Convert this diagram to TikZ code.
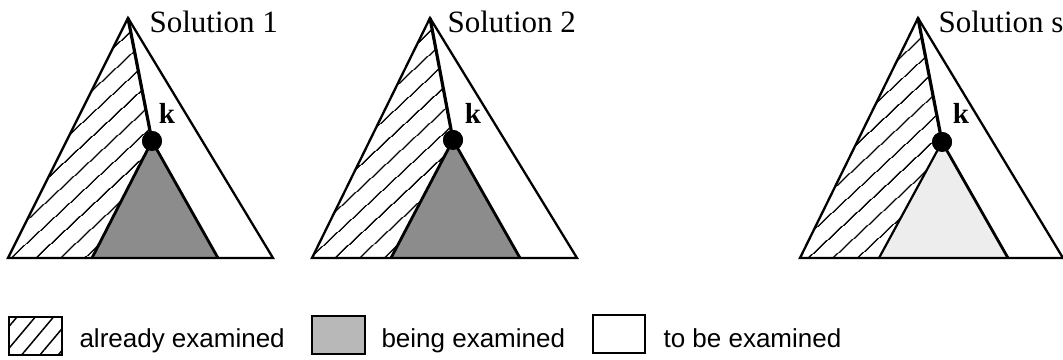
\documentclass[tikz,border=0pt]{standalone}
\usepackage{fontspec}
\setmainfont{Liberation Serif}
\setsansfont{Liberation Sans}
\usepackage{tikz}
\usetikzlibrary{patterns.meta}

\tikzset{
  outer/.style={line width=2.3pt, line join=miter},
  branch/.style={line width=3.2pt},
  inner/.style={line width=2.8pt},
  hatched/.style={pattern={Lines[angle=43,distance=17pt,line width=1.5pt]}},
  stipple/.style={fill=black!45},
  knode/.style={circle, fill=black, inner sep=0pt, minimum size=20pt},
  klabel/.style={font=\fontsize{29}{29}\selectfont\bfseries},
  soltext/.style={font=\fontsize{31}{31}\selectfont, anchor=base west},
  legtext/.style={font=\fontsize{26}{26}\selectfont\sffamily, anchor=base west}
}

\begin{document}
\begin{tikzpicture}[x=1pt, y=-1pt]
            \useasboundingbox[fill=white] (0,0) rectangle (1063,359);

            % solution 1
            \coordinate (top1) at (128,18);
            \coordinate (bl1) at (8,258);
            \coordinate (br1) at (273,258);
            \coordinate (il1) at (92,258);
            \coordinate (ir1) at (218,258);
            \node[knode] (k1) at (152,141) {};
            \fill[hatched] (bl1) -- (top1) -- (k1.center) -- (il1) -- cycle;
            \fill[stipple] (k1.center) -- (il1) -- (ir1) -- cycle;
            \draw[outer] (bl1) -- (top1) -- (br1) -- cycle;
            \draw[branch] (top1) -- (k1.center);
            \draw[inner] (il1) -- (k1.center) -- (ir1);
            \node[knode] at (k1) {};
            \node[klabel] (lk1) at (167,113) {k};
            \node[soltext] (sol1) at (146,32) {Solution 1};

            % solution 2
            \coordinate (top2) at (430,18);
            \coordinate (bl2) at (312,258);
            \coordinate (br2) at (577,258);
            \coordinate (il2) at (391,258);
            \coordinate (ir2) at (520,258);
            \node[knode] (k2) at (453,140) {};
            \fill[hatched] (bl2) -- (top2) -- (k2.center) -- (il2) -- cycle;
            \fill[stipple] (k2.center) -- (il2) -- (ir2) -- cycle;
            \draw[outer] (bl2) -- (top2) -- (br2) -- cycle;
            \draw[branch] (top2) -- (k2.center);
            \draw[inner] (il2) -- (k2.center) -- (ir2);
            \node[knode] at (k2) {};
            \node[klabel] (lk2) at (473,113) {k};
            \node[soltext] (sol2) at (444,32) {Solution 2};

            % solution s
            \coordinate (top3) at (918,18);
            \coordinate (bl3) at (800,258);
            \coordinate (br3) at (1063,258);
            \coordinate (il3) at (879,258);
            \coordinate (ir3) at (1008,258);
            \node[knode] (k3) at (942,142) {};
            \fill[hatched] (bl3) -- (top3) -- (k3.center) -- (il3) -- cycle;
            \fill[black!7] (k3.center) -- (il3) -- (ir3) -- cycle;
            \draw[outer] (bl3) -- (top3) -- (br3) -- cycle;
            \draw[branch] (top3) -- (k3.center);
            \draw[line width=2.2pt] (il3) -- (k3.center);
            \draw[inner] (k3.center) -- (ir3);
            \node[knode] at (k3) {};
            \node[klabel] (lk3) at (961,113) {k};
            \node[soltext] (sol3) at (935,32) {Solution s};

            % legend
            \draw[outer, pattern={Lines[angle=50,distance=14pt,line width=1.5pt]}] (9,317) rectangle (62,355);
            \node[legtext] (leg1) at (76,347) {already examined};
            \draw[outer, fill=black!28] (312,316) rectangle (365,354);
            \node[legtext] (leg2) at (378,347) {being examined};
            \draw[outer] (593,315) rectangle (645,353);
            \node[legtext] (leg3) at (660,347) {to be examined};
         \end{tikzpicture}
\end{document}
